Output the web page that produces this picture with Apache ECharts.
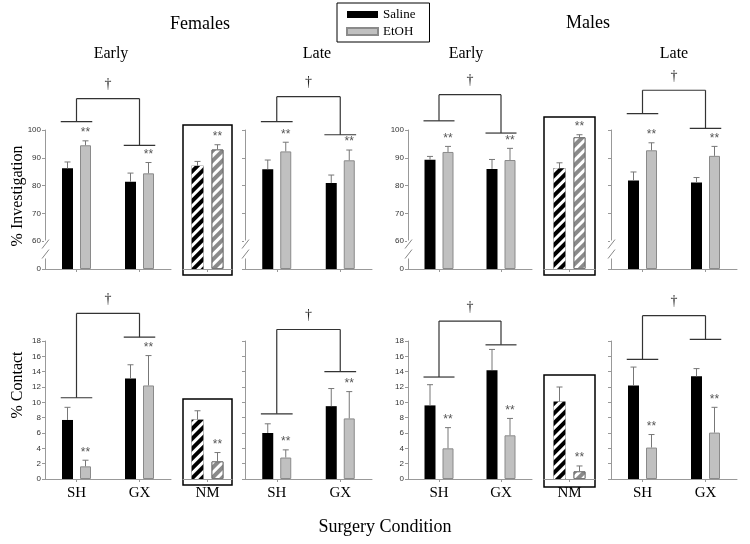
<!DOCTYPE html>
<html><head><meta charset="utf-8">
<script src="https://cdn.jsdelivr.net/npm/echarts@6/dist/echarts.min.js"></script>
<style>html,body{margin:0;padding:0;background:#fff}#c{width:750px;height:544px}</style>
</head><body><div id="c"></div>
<script>
// ---------- data ----------
const categories = ['SH', 'GX'];
const nmCategories = ['NM'];
const legendNames = ['Saline', 'EtOH'];
const yTickLabelsInv = ['0', '60', '70', '80', '90', '100'];
const yTickLabelsCon = ['0', '2', '4', '6', '8', '10', '12', '14', '16', '18'];

// % Investigation (means and SEM)
const invFemEarlySaline = [86.2, 81.4], invFemEarlySalineSem = [2.3, 3.1];
const invFemEarlyEtOH = [94.5, 84.4], invFemEarlyEtOHSem = [1.6, 3.9];
const invFemLateSaline = [85.9, 80.9], invFemLateSalineSem = [3.3, 2.9];
const invFemLateEtOH = [92.3, 89.1], invFemLateEtOHSem = [3.3, 3.7];
const invMalEarlySaline = [89.3, 86.0], invMalEarlySalineSem = [1.2, 3.4];
const invMalEarlyEtOH = [92.1, 89.2], invMalEarlyEtOHSem = [2.0, 4.2];
const invMalLateSaline = [81.8, 81.1], invMalLateSalineSem = [3.1, 1.8];
const invMalLateEtOH = [92.7, 90.7], invMalLateEtOHSem = [2.7, 3.4];
const invFemNMSaline = [87.1], invFemNMSalineSem = [1.6];
const invFemNMEtOH = [93.0], invFemNMEtOHSem = [1.7];
const invMalNMSaline = [86.2], invMalNMSalineSem = [2.0];
const invMalNMEtOH = [97.4], invMalNMEtOHSem = [0.9];

// % Contact (means and SEM)
const conFemEarlySaline = [7.7, 13.1], conFemEarlySalineSem = [1.65, 1.8];
const conFemEarlyEtOH = [1.65, 12.2], conFemEarlyEtOHSem = [0.8, 3.9];
const conFemLateSaline = [6.0, 9.5], conFemLateSalineSem = [1.2, 2.3];
const conFemLateEtOH = [2.8, 7.9], conFemLateEtOHSem = [1.0, 3.5];
const conMalEarlySaline = [9.6, 14.2], conMalEarlySalineSem = [2.7, 2.7];
const conMalEarlyEtOH = [4.0, 5.7], conMalEarlyEtOHSem = [2.7, 2.2];
const conMalLateSaline = [12.2, 13.4], conMalLateSalineSem = [2.4, 1.0];
const conMalLateEtOH = [4.1, 6.05], conMalLateEtOHSem = [1.7, 3.3];
const conFemNMSaline = [7.75], conFemNMSalineSem = [1.15];
const conFemNMEtOH = [2.3], conFemNMEtOHSem = [1.15];
const conMalNMSaline = [10.1], conMalNMSalineSem = [1.9];
const conMalNMEtOH = [1.0], conMalNMEtOHSem = [0.7];

// significance bracket levels [SH level, GX level, top level]
const bracketInvFemEarly = [103.0, 94.5, 111.3];
const bracketInvFemLate = [103.0, 98.3, 112.0];
const bracketInvMalEarly = [103.3, 98.9, 112.7];
const bracketInvMalLate = [105.9, 100.6, 114.3];
const bracketConFemEarly = [10.6, 18.5, 21.6];
const bracketConFemLate = [8.5, 14.0, 19.5];
const bracketConMalEarly = [13.3, 17.5, 20.6];
const bracketConMalLate = [15.6, 18.2, 21.3];

// ---------- layout ----------
const invDisplay = v => (v <= 0 ? 0 : v - 50); // broken axis: 0 | 60..100
const rows = {
  inv: { top: 130, height: 139, min: 0, max: 50, interval: 10, tf: invDisplay, labels: yTickLabelsInv, broken: true, xLabels: false },
  con: { top: 341, height: 138, min: 0, max: 18, interval: 2, tf: v => v, labels: yTickLabelsCon, broken: false, xLabels: true }
};
const mainCols = [
  { left: 45, width: 126 },
  { left: 245, width: 127 },
  { left: 408, width: 124 },
  { left: 611, width: 126 }
];
const nmCols = [{ left: 183, width: 49 }, { left: 544, width: 51 }];
const nmBoxes = { inv: [[125, 275], [117, 275]], con: [[399, 485], [375, 487]] };

const SERIF = '"Liberation Serif", "Times New Roman", serif';
const SANS = '"Liberation Sans", Arial, sans-serif';

const option = {
  animation: false,
  backgroundColor: '#fff',
  grid: [], xAxis: [], yAxis: [], series: [],
  legend: {
    data: legendNames, orient: 'vertical', left: 337, top: 3,
    itemWidth: 31, itemHeight: 7, itemGap: 4, padding: [5, 14, 4, 9],
    borderColor: '#000', borderWidth: 1, icon: 'rect', selectedMode: false,
    textStyle: { fontFamily: SERIF, fontSize: 13, color: '#000' }
  },
  graphic: []
};

function addGrid(g, row, cats, showYAxis, showYLabels, yMin, yMax, box, xOffset) {
  const i = option.grid.length;
  option.grid.push({ left: g.left, top: g.top, width: g.width, height: g.height,
    show: !!box, borderColor: '#000', borderWidth: 1.5, backgroundColor: 'transparent' });
  option.xAxis.push({ gridIndex: i, type: 'category', data: cats, offset: xOffset || 0,
    axisLine: { show: true, onZero: false, lineStyle: { color: '#999', width: 1 } },
    axisTick: { show: true, alignWithLabel: true, length: 3, lineStyle: { color: '#999' } },
    axisLabel: { show: row.xLabels, fontFamily: SERIF, fontSize: 15, color: '#000', margin: 7 },
    splitLine: { show: false } });
  const ya = { gridIndex: i, type: 'value', min: yMin, max: yMax,
    axisLine: { show: showYAxis, lineStyle: { color: '#999', width: 1 } },
    axisTick: { show: showYAxis, length: 3, lineStyle: { color: '#999' } },
    axisLabel: { show: showYLabels, fontFamily: SANS, fontSize: 8, color: '#333', margin: 4,
      formatter: v => row.labels[Math.round((v - row.min) / row.interval)] },
    splitLine: { show: false } };
  if (showYAxis) ya.interval = row.interval;
  option.yAxis.push(ya);
  return i;
}

function line(x1, y1, x2, y2, stroke, w) {
  return { type: 'line', shape: { x1, y1, x2, y2 }, style: { stroke, lineWidth: w } };
}

function makeErr(half) {
  return (params, api) => {
    const c = api.value(0), g = api.value(3);
    const pb = api.coord([c, api.value(1)]);
    const pt = api.coord([c, api.value(2)]);
    const x = pb[0] + (g === 0 ? -half : half);
    const children = [
      line(x, pb[1], x, pt[1], '#777', 1),
      line(x - 3, pt[1], x + 3, pt[1], '#777', 1)
    ];
    if (g === 1) {
      children.push({ type: 'text', x: x, y: pt[1] - 8,
        style: { text: '**', fill: '#555', font: '12px ' + SANS, align: 'center', verticalAlign: 'middle',
          textAlign: 'center', textVerticalAlign: 'middle' } });
    }
    return { type: 'group', children };
  };
}

function addBars(i, row, sal, salSem, et, etSem, hatched) {
  const tf = row.tf;
  const bw = hatched ? 12 : 11, gap = hatched ? 8 : 7;
  const hatch = { symbol: 'rect', symbolSize: 1, dashArrayX: [1, 0], dashArrayY: [3, 3.5], rotation: -Math.PI / 4, color: '#fff' };
  const salStyle = hatched ? { color: '#000', decal: hatch } : { color: '#000' };
  const etStyle = hatched
    ? { color: '#8a8a8a', borderColor: '#777', borderWidth: 1, decal: hatch }
    : { color: '#c0c0c0', borderColor: '#8a8a8a', borderWidth: 1 };
  option.series.push({ type: 'bar', name: hatched ? 'Saline NM' : 'Saline', xAxisIndex: i, yAxisIndex: i,
    data: sal.map(tf), barWidth: bw, barGap: (gap / bw * 100) + '%', itemStyle: salStyle, silent: true });
  option.series.push({ type: 'bar', name: hatched ? 'EtOH NM' : 'EtOH', xAxisIndex: i, yAxisIndex: i,
    data: et.map(tf), barWidth: bw, barGap: (gap / bw * 100) + '%', itemStyle: etStyle, silent: true });
  const errData = [];
  sal.forEach((v, k) => errData.push([k, tf(v), tf(v + salSem[k]), 0]));
  et.forEach((v, k) => errData.push([k, tf(v), tf(v + etSem[k]), 1]));
  option.series.push({ type: 'custom', xAxisIndex: i, yAxisIndex: i, data: errData,
    encode: { x: 0, y: 1 }, renderItem: makeErr((bw + gap) / 2), z: 3, silent: true });
}

function addBracket(i, row, lv) {
  option.series.push({ type: 'custom', xAxisIndex: i, yAxisIndex: i, silent: true, z: 4,
    data: [[0, 1, row.tf(lv[0]), row.tf(lv[1]), row.tf(lv[2])]], encode: { x: 0, y: 2 },
    renderItem: (params, api) => {
      const pl = api.coord([api.value(0), api.value(2)]);
      const pr = api.coord([api.value(1), api.value(3)]);
      const top = api.coord([api.value(0), api.value(4)])[1];
      const half = api.size([1, 0])[0] * 0.25;
      const s = '#333', w = 1.2;
      return { type: 'group', children: [
        line(pl[0] - half, pl[1], pl[0] + half, pl[1], s, w),
        line(pl[0], pl[1], pl[0], top, s, w),
        line(pl[0], top, pr[0], top, s, w),
        line(pr[0], top, pr[0], pr[1], s, w),
        line(pr[0] - half, pr[1], pr[0] + half, pr[1], s, w),
        { type: 'text', x: (pl[0] + pr[0]) / 2, y: top - 14,
          style: { text: '†', fill: '#222', font: '14px ' + SERIF, align: 'center', verticalAlign: 'middle',
            textAlign: 'center', textVerticalAlign: 'middle' } }
      ] };
    } });
}

function addBreakMarks(i) {
  option.series.push({ type: 'custom', xAxisIndex: i, yAxisIndex: i, silent: true, z: 4,
    data: [[0, 7]], encode: { x: 0, y: 1 },
    renderItem: (params, api) => {
      const x = params.coordSys.x;
      const y = api.coord([0, api.value(1)])[1];
      return { type: 'group', children: [
        { type: 'rect', shape: { x: x - 1, y: y - 9, width: 2, height: 18 }, style: { fill: '#fff' } },
        line(x - 3, y - 1, x + 4, y - 10, '#888', 1),
        line(x - 3, y + 9, x + 4, y, '#888', 1)
      ] };
    } });
}

const panelData = {
  inv: [
    [invFemEarlySaline, invFemEarlySalineSem, invFemEarlyEtOH, invFemEarlyEtOHSem, bracketInvFemEarly],
    [invFemLateSaline, invFemLateSalineSem, invFemLateEtOH, invFemLateEtOHSem, bracketInvFemLate],
    [invMalEarlySaline, invMalEarlySalineSem, invMalEarlyEtOH, invMalEarlyEtOHSem, bracketInvMalEarly],
    [invMalLateSaline, invMalLateSalineSem, invMalLateEtOH, invMalLateEtOHSem, bracketInvMalLate]
  ],
  con: [
    [conFemEarlySaline, conFemEarlySalineSem, conFemEarlyEtOH, conFemEarlyEtOHSem, bracketConFemEarly],
    [conFemLateSaline, conFemLateSalineSem, conFemLateEtOH, conFemLateEtOHSem, bracketConFemLate],
    [conMalEarlySaline, conMalEarlySalineSem, conMalEarlyEtOH, conMalEarlyEtOHSem, bracketConMalEarly],
    [conMalLateSaline, conMalLateSalineSem, conMalLateEtOH, conMalLateEtOHSem, bracketConMalLate]
  ]
};
const nmData = {
  inv: [[invFemNMSaline, invFemNMSalineSem, invFemNMEtOH, invFemNMEtOHSem],
        [invMalNMSaline, invMalNMSalineSem, invMalNMEtOH, invMalNMEtOHSem]],
  con: [[conFemNMSaline, conFemNMSalineSem, conFemNMEtOH, conFemNMEtOHSem],
        [conMalNMSaline, conMalNMSalineSem, conMalNMEtOH, conMalNMEtOHSem]]
};

['inv', 'con'].forEach(rk => {
  const row = rows[rk];
  panelData[rk].forEach((d, c) => {
    const g = { left: mainCols[c].left, width: mainCols[c].width, top: row.top, height: row.height };
    const showLabels = (c === 0 || c === 2);
    const i = addGrid(g, row, categories, true, showLabels, row.min, row.max, false, 0);
    addBars(i, row, d[0], d[1], d[2], d[3], false);
    addBracket(i, row, d[4]);
    if (row.broken) addBreakMarks(i);
  });
  nmData[rk].forEach((d, c) => {
    const box = nmBoxes[rk][c];
    const pxPerUnit = row.height / (row.max - row.min);
    const base = row.top + row.height;
    const yMax = row.max + (row.top - box[0]) / pxPerUnit;
    const yMin = -(box[1] - base) / pxPerUnit;
    const g = { left: nmCols[c].left, width: nmCols[c].width, top: box[0], height: box[1] - box[0] };
    const i = addGrid(g, row, nmCategories, false, false, yMin, yMax, true, -(box[1] - base));
    addBars(i, row, d[0], d[1], d[2], d[3], true);
  });
});

function txt(text, x, y, size, rot) {
  const t = { type: 'text', x, y, silent: true,
    style: { text, fill: '#000', font: size + 'px ' + SERIF, align: 'center', verticalAlign: 'middle',
      textAlign: 'center', textVerticalAlign: 'middle' } };
  if (rot) t.rotation = rot;
  return t;
}
option.graphic = [
  txt('Females', 200, 24, 18), txt('Males', 588, 23, 18),
  txt('Early', 111, 54, 16), txt('Late', 317, 54, 16),
  txt('Early', 466, 54, 16), txt('Late', 674, 54, 16),
  txt('% Investigation', 18, 196, 16, Math.PI / 2),
  txt('% Contact', 18, 385, 16, Math.PI / 2),
  txt('Surgery Condition', 385, 527, 18)
];

const chart = echarts.init(document.getElementById('c'), null, { renderer: 'canvas' });
chart.setOption(option);
</script></body></html>
